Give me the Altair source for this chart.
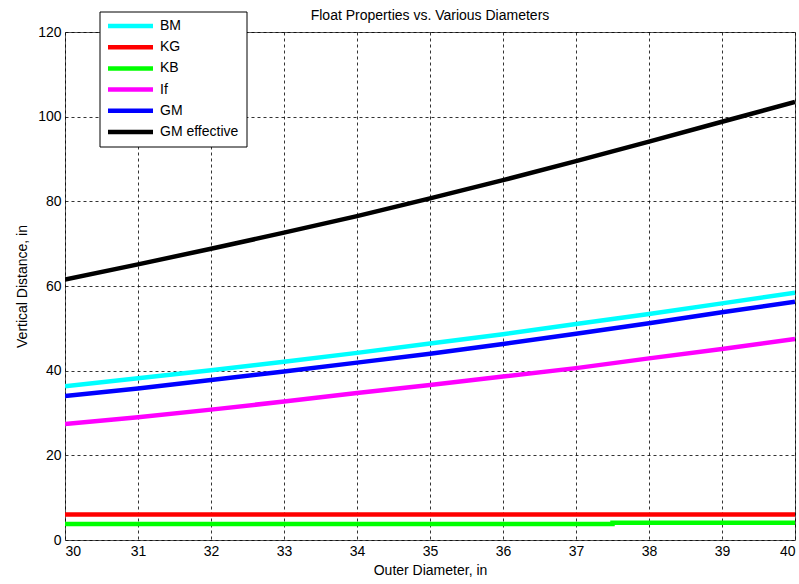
import altair as alt
import pandas as pd

diam = [30, 31, 32, 33, 34, 35, 36, 37, 38, 39, 40]
bm = [36.3, 38.2, 40.1, 42.1, 44.2, 46.4, 48.6, 51.0, 53.4, 55.9, 58.4]
kg = [6.0, 6.0, 6.0, 6.0, 6.0, 6.0, 6.0, 6.0, 6.0, 6.0, 6.0]
kb_x = [30, 31, 32, 33, 34, 35, 36, 37, 37.5, 37.5, 38, 39, 40]
kb = [3.8, 3.8, 3.8, 3.8, 3.8, 3.8, 3.8, 3.8, 3.8, 4.05, 4.05, 4.05, 4.05]
lf = [27.4, 29.0, 30.8, 32.7, 34.7, 36.6, 38.6, 40.6, 42.9, 45.1, 47.5]
gm = [34.0, 35.8, 37.8, 39.8, 41.9, 44.0, 46.3, 48.7, 51.2, 53.8, 56.3]
gm_eff = [61.5, 65.1, 68.8, 72.6, 76.5, 80.7, 85.0, 89.5, 94.1, 98.8, 103.5]

series = ["BM", "KG", "KB", "If", "GM", "GM effective"]
colors = ["#00FFFF", "#FF0000", "#00FF00", "#FF00FF", "#0000FF", "#000000"]

rows = []
for name, ys in [("BM", bm), ("KG", kg), ("If", lf), ("GM", gm), ("GM effective", gm_eff)]:
    for i, (x, y) in enumerate(zip(diam, ys)):
        rows.append({"d": x, "v": y, "s": name, "o": i})
for i, (x, y) in enumerate(zip(kb_x, kb)):
    rows.append({"d": x, "v": y, "s": "KB", "o": i})
df = pd.DataFrame(rows)

leg_df = pd.DataFrame({"s": series, "r": list(range(len(series)))})

font = "Liberation Sans"
color_scale = alt.Scale(domain=series, range=colors)

lines = alt.Chart(df).mark_line(strokeWidth=4.5, clip=True).encode(
    x=alt.X("d:Q", scale=alt.Scale(domain=[30, 40], nice=False),
            axis=alt.Axis(title="Outer Diameter, in", values=list(range(30, 41)),
                          format="d", ticks=False, labelPadding=4, titlePadding=5,
                          titleFontWeight="normal")),
    y=alt.Y("v:Q", scale=alt.Scale(domain=[0, 120], nice=False),
            axis=alt.Axis(title="Vertical Distance, in", values=list(range(0, 121, 20)),
                          ticks=False, labelPadding=4, titlePadding=8,
                          titleFontWeight="normal")),
    color=alt.Color("s:N", scale=color_scale, legend=None),
    order="o:Q",
)

leg_box = alt.Chart(alt.Data(values=[{"a": 1}])).mark_rect(
    fill="white", stroke="#000000", strokeWidth=1
).encode(
    x=alt.value(35), x2=alt.value(182), y=alt.value(-20), y2=alt.value(115)
)

leg_y = alt.Y("r:Q", scale=alt.Scale(domain=[0, 5], range=[-6, 100]), axis=None)

leg_lines = alt.Chart(leg_df).mark_rule(strokeWidth=4.5).encode(
    x=alt.value(43), x2=alt.value(88), y=leg_y,
    color=alt.Color("s:N", scale=color_scale, legend=None),
)

leg_text = alt.Chart(leg_df).mark_text(
    align="left", baseline="middle", font=font, fontSize=14, color="#000000"
).encode(
    x=alt.value(95), y=leg_y, text="s:N"
)

legend = alt.layer(leg_box, leg_lines, leg_text)

chart = alt.layer(lines, legend).resolve_scale(y="independent").properties(
    width=730, height=508,
    title=alt.TitleParams("Float Properties vs. Various Diameters", fontSize=14,
                          fontWeight="normal", font=font, offset=4, dy=15,
                          anchor="middle", color="#000000"),
    autosize=alt.AutoSizeParams(type="none"),
    padding={"left": 65, "top": 32, "right": 4, "bottom": 44},
    background="white",
).configure_view(
    stroke="#555555", strokeWidth=1
).configure_axis(
    grid=True, gridColor="#000000", gridDash=[3, 3], gridOpacity=0.8, gridWidth=1,
    domain=False, labelFont=font, titleFont=font, labelFontSize=14, titleFontSize=14,
    labelColor="#000000", titleColor="#000000", titleFontWeight="normal",
)

chart.save("out.html", embed_options={"renderer": "svg", "actions": False})
